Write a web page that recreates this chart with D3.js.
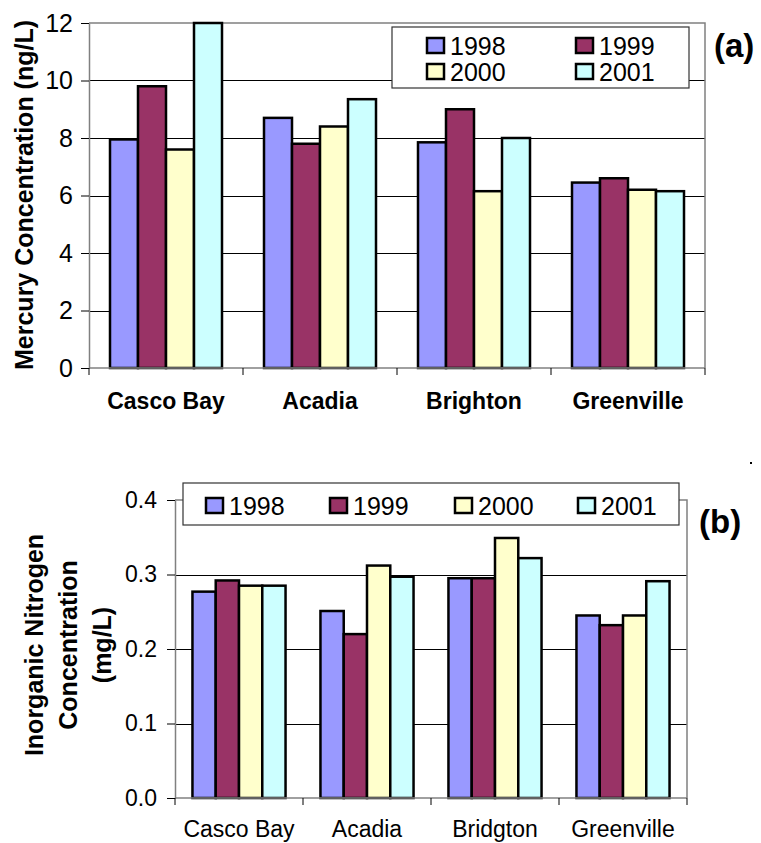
<!DOCTYPE html>
<html>
<head>
<meta charset="utf-8">
<script src="https://cdn.jsdelivr.net/npm/d3@7"></script>
<style>
body { margin: 0; background: #fff; }
text { font-family: "Liberation Sans", Arial, sans-serif; fill: #000; }
</style>
</head>
<body>
<div id="chart"></div>
<script>
// Series names and colours
const years = ["1998", "1999", "2000", "2001"];
const colors = ["#9999ff", "#993366", "#ffffcc", "#ccffff"];

// (a) Mercury, ng/L
const mercurySites = ["Casco Bay", "Acadia", "Brighton", "Greenville"];
const mercury1998 = [7.95, 8.7, 7.85, 6.45];
const mercury1999 = [9.8, 7.8, 9.0, 6.6];
const mercury2000 = [7.6, 8.4, 6.15, 6.2];
const mercury2001 = [12.0, 9.35, 8.0, 6.15];
const mercuryTicks = [0, 2, 4, 6, 8, 10, 12];

// (b) Inorganic nitrogen, mg/L
const nitrogenSites = ["Casco Bay", "Acadia", "Bridgton", "Greenville"];
const nitrogen1998 = [0.277, 0.251, 0.295, 0.245];
const nitrogen1999 = [0.292, 0.220, 0.295, 0.232];
const nitrogen2000 = [0.285, 0.312, 0.349, 0.245];
const nitrogen2001 = [0.285, 0.297, 0.322, 0.291];
const nitrogenTicks = [0, 0.1, 0.2, 0.3, 0.4];

const svg = d3.select("#chart")
    .append("svg")
    .attr("width", 761)
    .attr("height", 843);

function drawPanel(o) {
    const g = svg.append("g");
    const series = o.series;

    const x = d3.scaleBand().domain(o.sites).range([o.left, o.right]);
    const xi = d3.scaleBand().domain(years).range([0, x.bandwidth()]).paddingOuter(0.75);
    const y = d3.scaleLinear().domain([0, d3.max(o.ticks)]).range([o.bottom, o.top]);

    // gridlines (inner ones black)
    g.selectAll(".grid")
        .data(o.ticks.slice(1, -1))
        .enter()
        .append("line")
        .attr("x1", o.left).attr("x2", o.right)
        .attr("y1", d => Math.round(y(d)) + 0.5).attr("y2", d => Math.round(y(d)) + 0.5)
        .attr("stroke", "#000").attr("stroke-width", 1);

    // plot frame top + right in grey
    g.append("path")
        .attr("d", `M${o.left},${y(d3.max(o.ticks))}H${o.right}V${o.bottom}`)
        .attr("fill", "none").attr("stroke", "#808080").attr("stroke-width", 1.5);

    // bars
    const groups = g.selectAll(".site")
        .data(o.sites)
        .enter()
        .append("g")
        .attr("transform", d => `translate(${x(d)},0)`);

    groups.selectAll("rect")
        .data((d, i) => years.map((yr, j) => ({ year: yr, value: series[j][i], c: colors[j] })))
        .enter()
        .append("rect")
        .attr("x", d => xi(d.year))
        .attr("width", xi.bandwidth())
        .attr("y", d => y(d.value))
        .attr("height", d => y(0) - y(d.value))
        .attr("fill", d => d.c)
        .attr("stroke", "#000")
        .attr("stroke-width", 2.5);

    // y axis
    const yAxis = g.append("g")
        .attr("transform", `translate(${o.left},0)`)
        .call(d3.axisLeft(y).tickValues(o.ticks).tickFormat(o.fmt).tickSize(8).tickPadding(o.tickPad).tickSizeOuter(0));
    yAxis.select(".domain").attr("stroke", "#808080").attr("stroke-width", 1.5);
    yAxis.selectAll(".tick line").attr("stroke", "#000");
    yAxis.selectAll(".tick text")
        .attr("font-size", o.tickFont)
        .attr("font-family", "Liberation Sans, Arial, sans-serif");

    // x axis line + boundary ticks
    g.append("line")
        .attr("x1", o.left).attr("x2", o.right)
        .attr("y1", o.bottom).attr("y2", o.bottom)
        .attr("stroke", "#808080").attr("stroke-width", 1.5);
    const bounds = o.sites.map(s => x(s)).concat([o.right]);
    g.selectAll(".xt")
        .data(bounds)
        .enter()
        .append("line")
        .attr("x1", d => d).attr("x2", d => d)
        .attr("y1", o.bottom).attr("y2", o.bottom + 7)
        .attr("stroke", "#000");

    g.selectAll(".xl")
        .data(o.sites)
        .enter()
        .append("text")
        .attr("x", d => x(d) + x.bandwidth() / 2)
        .attr("y", o.labelY)
        .attr("text-anchor", "middle")
        .attr("font-size", 23)
        .attr("font-weight", o.labelBold ? "bold" : "normal")
        .text(d => d);

    // y title
    const title = g.append("text")
        .attr("transform", `translate(${o.titleX},${o.titleY}) rotate(-90)`)
        .attr("text-anchor", "middle")
        .attr("font-size", 25)
        .attr("font-weight", "bold");
    o.title.forEach((t, i) => {
        title.append("tspan").attr("x", 0).attr("dy", i === 0 ? 0 : 34).text(t);
    });

    // legend
    const lg = g.append("g");
    lg.append("rect")
        .attr("x", o.legend.x).attr("y", o.legend.y)
        .attr("width", o.legend.w).attr("height", o.legend.h)
        .attr("fill", "#fff").attr("stroke", "#333").attr("stroke-width", 1.2);
    years.forEach((yr, j) => {
        const p = o.legend.pos[j];
        lg.append("rect")
            .attr("x", p[0]).attr("y", p[1])
            .attr("width", 17).attr("height", 15)
            .attr("fill", colors[j]).attr("stroke", "#000").attr("stroke-width", 2.5);
        lg.append("text")
            .attr("x", p[0] + 23).attr("y", p[1] + 17)
            .attr("font-size", 25)
            .text(yr);
    });

    // panel letter
    g.append("text")
        .attr("x", o.tag[0]).attr("y", o.tag[1])
        .attr("font-size", 33).attr("font-weight", "bold")
        .text(o.tag[2]);
}

drawPanel({
    sites: mercurySites,
    series: [mercury1998, mercury1999, mercury2000, mercury2001],
    ticks: mercuryTicks,
    fmt: d3.format("d"),
    left: 89, right: 705, top: 23, bottom: 368,
    tickFont: 25, tickPad: 8,
    labelY: 409, labelBold: true,
    title: ["Mercury Concentration (ng/L)"],
    titleX: 33, titleY: 195,
    legend: { x: 392, y: 27, w: 297, h: 61, pos: [[427, 38], [576, 38], [427, 64], [576, 64]] },
    tag: [714, 57, "(a)"]
});

drawPanel({
    sites: nitrogenSites,
    series: [nitrogen1998, nitrogen1999, nitrogen2000, nitrogen2001],
    ticks: nitrogenTicks,
    fmt: d3.format(".1f"),
    left: 175, right: 687, top: 500, bottom: 798,
    tickFont: 23, tickPad: 10,
    labelY: 837, labelBold: false,
    title: ["Inorganic Nitrogen", "Concentration", "(mg/L)"],
    titleX: 43, titleY: 645,
    legend: { x: 183, y: 483, w: 496, h: 42, pos: [[206, 498], [330, 498], [455, 498], [578, 498]] },
    tag: [699, 533, "(b)"]
});

// stray dot in the source image
svg.append("rect").attr("x", 750).attr("y", 462).attr("width", 2).attr("height", 2).attr("fill", "#000");
</script>
</body>
</html>
